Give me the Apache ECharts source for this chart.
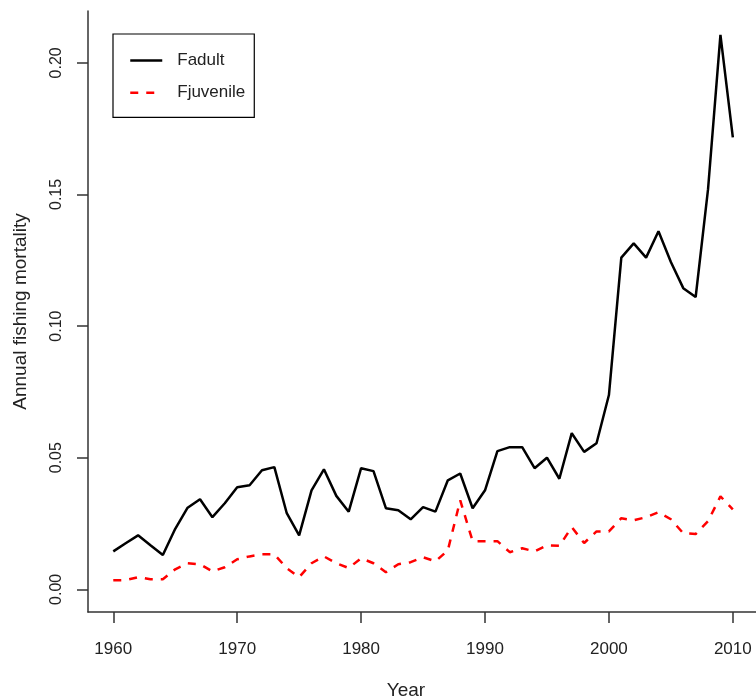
<!DOCTYPE html>
<html style="height: 100%">
    <head>
        <title>Annual fishing mortality</title>
        <script type="text/javascript" src="https://fastly.jsdelivr.net/npm/echarts@6.0.0/dist/echarts.min.js"></script>
    </head>
    <body style="height: 100%; margin: 0; background: #fff">
        <div id="target" style="width: 756px; height: 700px"></div>

<script type="text/javascript">
// data
let years = [
    1960, 1961, 1962, 1963, 1964, 1965, 1966, 1967, 1968, 1969,
    1970, 1971, 1972, 1973, 1974, 1975, 1976, 1977, 1978, 1979,
    1980, 1981, 1982, 1983, 1984, 1985, 1986, 1987, 1988, 1989,
    1990, 1991, 1992, 1993, 1994, 1995, 1996, 1997, 1998, 1999,
    2000, 2001, 2002, 2003, 2004, 2005, 2006, 2007, 2008, 2009, 2010,
];

let fadult = [
    0.0144, 0.0175, 0.0205, 0.0167, 0.0130, 0.0230, 0.0310, 0.0342, 0.0274, 0.0327,
    0.0388, 0.0395, 0.0452, 0.0464, 0.0289, 0.0205, 0.0376, 0.0456, 0.0355, 0.0295,
    0.0460, 0.0449, 0.0308, 0.0300, 0.0266, 0.0312, 0.0295, 0.0414, 0.0440, 0.0308,
    0.0376, 0.0525, 0.0540, 0.0540, 0.0460, 0.0500, 0.0420, 0.0593, 0.0522, 0.0555,
    0.0738, 0.1260, 0.1314, 0.1260, 0.1360, 0.1243, 0.1144, 0.1110, 0.1520, 0.2106, 0.1717,
];

let fjuvenile = [
    0.0034, 0.0035, 0.0046, 0.0038, 0.0038, 0.0076, 0.0099, 0.0095, 0.0068, 0.0084,
    0.0114, 0.0125, 0.0133, 0.0133, 0.0080, 0.0046, 0.0099, 0.0125, 0.0099, 0.0081,
    0.0118, 0.0099, 0.0065, 0.0095, 0.0103, 0.0122, 0.0106, 0.0148, 0.0338, 0.0183,
    0.0183, 0.0183, 0.0141, 0.0156, 0.0144, 0.0167, 0.0165, 0.0236, 0.0176, 0.0220,
    0.0220, 0.0270, 0.0262, 0.0274, 0.0293, 0.0266, 0.0213, 0.0210, 0.0259, 0.0353, 0.0304,
];

let xTicks = [1960, 1970, 1980, 1990, 2000, 2010];
let yTicks = [0, 0.05, 0.10, 0.15, 0.20];

let chart = echarts.init(document.getElementById('target'), null, { renderer: 'canvas' });

let axisColor = "#333";
let textColor = "#222";
let fontFam = "'Liberation Sans', Arial, sans-serif";

let Pair = (ys) => years.map((y, i) => [y, ys[i]]);

let option = {
    backgroundColor: "#fff",
    animation: false,
    grid: {
        left: 88,
        right: 0,
        top: 11,
        bottom: 88,
        containLabel: false,
        outerBoundsMode: "none",
    },
    legend: {
        orient: "vertical",
        left: 113,
        top: 34,
        padding: [11.8, 9, 10, 16],
        itemWidth: 32,
        itemHeight: 14,
        itemGap: 3,
        borderColor: "#000",
        borderWidth: 1.2,
        borderRadius: 0,
        itemStyle: { opacity: 0 },
        lineStyle: { width: 2.5 },
        textStyle: {
            fontFamily: fontFam,
            fontSize: 17,
            lineHeight: 17,
            color: textColor,
            padding: [0, 0, 0, 10],
        },
        data: ["Fadult", "Fjuvenile"],
    },
    xAxis: {
        type: "value",
        min: 1957.96,
        max: 2011.87,
        name: "Year",
        nameLocation: "middle",
        nameGap: 62,
        nameTextStyle: {
            fontFamily: fontFam,
            fontSize: 19,
            color: textColor,
            padding: [0, 32, 0, 0],
        },
        splitLine: { show: false },
        axisLine: { show: true, onZero: false, lineStyle: { color: axisColor, width: 1.5 } },
        axisTick: {
            show: true,
            inside: false,
            length: 11,
            customValues: xTicks,
            lineStyle: { color: axisColor, width: 1.5 },
        },
        axisLabel: {
            customValues: xTicks,
            margin: 23,
            fontFamily: fontFam,
            fontSize: 17,
            color: textColor,
            formatter: v => String(v),
        },
    },
    yAxis: {
        type: "value",
        min: -0.00862,
        max: 0.21968,
        name: "Annual fishing mortality",
        nameLocation: "middle",
        nameGap: 51,
        nameMoveOverlap: false,
        nameTextStyle: {
            fontFamily: fontFam,
            fontSize: 19,
            color: textColor,
        },
        splitLine: { show: false },
        axisLine: { show: true, onZero: false, lineStyle: { color: axisColor, width: 1.5 } },
        axisTick: {
            show: true,
            inside: false,
            length: 11,
            customValues: yTicks,
            lineStyle: { color: axisColor, width: 1.5 },
        },
        axisLabel: {
            customValues: yTicks,
            rotate: 90,
            margin: 18,
            fontFamily: fontFam,
            fontSize: 16,
            color: textColor,
            formatter: v => v.toFixed(2),
        },
    },
    series: [
        {
            name: "Fadult",
            type: "line",
            data: Pair(fadult),
            symbol: "none",
            lineStyle: { color: "#000", width: 2.5 },
            itemStyle: { color: "#000" },
        },
        {
            name: "Fjuvenile",
            type: "line",
            data: Pair(fjuvenile),
            symbol: "none",
            lineStyle: { color: "#ff0000", width: 2.5, type: [8, 8] },
            itemStyle: { color: "#ff0000" },
        },
    ],
};

chart.setOption(option);
</script>
    </body>
</html>
